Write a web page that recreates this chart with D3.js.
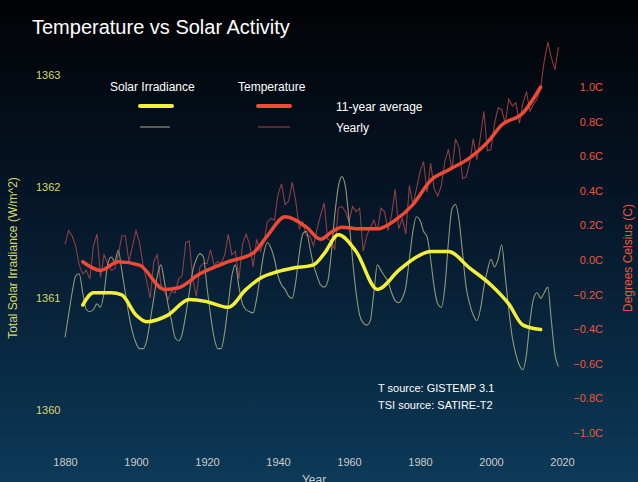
<!DOCTYPE html>
<html><head><meta charset="utf-8">
<script src="https://cdn.jsdelivr.net/npm/d3@7"></script>
<style>body{margin:0;background:#000;}svg{display:block;font-family:"Liberation Sans",Arial,sans-serif;}</style>
</head><body><svg id="chart"></svg>
<script>
const tempYears = d3.range(1880, 2020);
const tempYearly = [0.09,0.17,0.14,0.08,-0.03,-0.08,-0.06,-0.11,0.08,0.15,-0.10,0.03,-0.02,-0.06,-0.05,0.03,0.14,0.14,-0.01,0.08,
  0.17,0.10,-0.03,-0.12,-0.22,-0.01,0.03,-0.14,-0.18,-0.23,-0.18,-0.19,-0.11,-0.09,0.10,0.11,-0.11,-0.21,-0.04,-0.02,
  -0.02,0.06,-0.03,-0.01,-0.02,0.03,0.15,0.03,0.05,-0.11,0.09,0.15,0.09,-0.04,0.12,0.05,0.10,0.22,0.24,0.23,
  0.38,0.44,0.32,0.34,0.45,0.34,0.18,0.22,0.14,0.14,0.08,0.18,0.26,0.33,0.12,0.11,0.06,0.30,0.31,0.28,
  0.22,0.31,0.28,0.30,0.05,0.14,0.19,0.23,0.17,0.30,0.28,0.17,0.26,0.41,0.18,0.24,0.15,0.43,0.32,0.41,
  0.51,0.57,0.39,0.56,0.41,0.37,0.43,0.57,0.64,0.52,0.70,0.65,0.47,0.48,0.56,0.70,0.58,0.71,0.86,0.63,
  0.64,0.79,0.88,0.87,0.79,0.93,0.89,0.91,0.79,0.91,0.97,0.86,0.90,0.93,1.00,1.15,1.26,1.17,1.10,1.23];
const tsiYearly = [1360.65,1360.85,1361.05,1361.2,1361.22,1361.05,1360.9,1360.88,1360.9,1360.95,
  1360.92,1361.05,1361.3,1361.37,1361.33,1361.43,1361.25,1361.05,1360.85,1360.7,
  1360.6,1360.55,1360.55,1360.62,1360.8,1361.0,1361.2,1361.3,1361.15,1360.95,
  1360.8,1360.65,1360.62,1360.68,1360.85,1361.05,1361.25,1361.35,1361.4,1361.37,
  1361.1,1360.85,1360.65,1360.55,1360.55,1360.7,1360.95,1361.2,1361.3,1361.1,
  1360.95,1360.9,1360.88,1360.87,1361.0,1361.2,1361.4,1361.5,1361.45,1361.35,
  1361.2,1361.12,1361.08,1361.02,1361.0,1361.15,1361.4,1361.58,1361.6,1361.45,
  1361.3,1361.2,1361.12,1361.1,1361.15,1361.4,1361.75,1362.0,1362.09,1362.0,
  1361.7,1361.35,1361.05,1360.85,1360.78,1360.76,1360.8,1361.05,1361.3,1361.25,
  1361.2,1361.15,1361.05,1360.98,1360.96,1361.0,1361.1,1361.35,1361.6,1361.73,
  1361.7,1361.6,1361.55,1361.35,1361.1,1360.95,1360.92,1361.1,1361.5,1361.8,
  1361.84,1361.7,1361.4,1361.1,1360.95,1360.85,1360.8,1360.9,1361.1,1361.25,
  1361.35,1361.28,1361.35,1361.48,1361.2,1360.9,1360.65,1360.5,1360.4,1360.36,
  1360.5,1360.8,1361.0,1361.05,1361.0,1361.05,1361.1,1360.8,1360.5,1360.39];
const tempAvgYears = [1885,1890,1895,1901,1908,1912,1918,1926,1933,1937,1942,1948,1952,1955,1958,1963,1968,1973,1978,1983,1988,1994,1999,2003,2009,2014];
const tempAvg = [-0.01,-0.06,-0.01,-0.03,-0.17,-0.16,-0.08,-0.01,0.04,0.14,0.25,0.19,0.12,0.16,0.19,0.18,0.18,0.23,0.32,0.46,0.52,0.59,0.68,0.78,0.85,1.0];
const tsiAvgYears = [1885,1888,1893,1896,1900,1903,1909,1915,1920,1926,1931,1935,1940,1944,1950,1953,1957,1962,1968,1974,1979,1983,1988,1994,2000,2005,2009,2014];
const tsiAvg = [1360.94,1361.05,1361.05,1361.03,1360.85,1360.79,1360.85,1360.99,1360.97,1360.92,1361.08,1361.18,1361.24,1361.27,1361.3,1361.4,1361.57,1361.42,1361.08,1361.25,1361.37,1361.42,1361.42,1361.27,1361.12,1360.95,1360.76,1360.72];
const xTicks = [1880,1900,1920,1940,1960,1980,2000,2020];
const tsiTicks = [1360,1361,1362,1363];
const tempTicks = [-1.0,-0.8,-0.6,-0.4,-0.2,0.0,0.2,0.4,0.6,0.8,1.0];

const W = 638, H = 482;
const svg = d3.select("#chart").attr("width", W).attr("height", H);

const defs = svg.append("defs");
const grad = defs.append("linearGradient").attr("id", "bg").attr("x1", 0).attr("x2", 0).attr("y1", 0).attr("y2", 1);
grad.append("stop").attr("offset", "0%").attr("stop-color", "#020204");
grad.append("stop").attr("offset", "45%").attr("stop-color", "#06172a");
grad.append("stop").attr("offset", "100%").attr("stop-color", "#0c3a58");
svg.append("rect").attr("width", W).attr("height", H).attr("fill", "url(#bg)");

const x = d3.scaleLinear().domain([1880, 2020]).range([65, 562]);
const yL = d3.scaleLinear().domain([1360, 1363]).range([410, 75]);
const yR = d3.scaleLinear().domain([-1, 1]).range([433, 87]);

svg.append("text").attr("x", 32).attr("y", 34).attr("fill", "#fff")
    .attr("font-size", 20).text("Temperature vs Solar Activity");

// axes without domain lines
const xAxis = svg.append("g").attr("transform", "translate(0,455)")
    .call(d3.axisBottom(x).tickValues(xTicks).tickFormat(d3.format("d")).tickSize(0));
xAxis.select(".domain").remove();
xAxis.selectAll("text").attr("fill", "#ccc").attr("font-size", 11).attr("font-family", "Liberation Sans, Arial");

const lAxis = svg.append("g").attr("transform", "translate(33,0)")
    .call(d3.axisRight(yL).tickValues(tsiTicks).tickFormat(d3.format("d")).tickSize(0));
lAxis.select(".domain").remove();
lAxis.selectAll("text").attr("fill", "#d8d86a").attr("font-size", 11).attr("font-family", "Liberation Sans, Arial");

const rAxis = svg.append("g").attr("transform", "translate(606,0)")
    .call(d3.axisLeft(yR).tickValues(tempTicks).tickFormat(d => d3.format(".1f")(d) + "C").tickSize(0));
rAxis.select(".domain").remove();
rAxis.selectAll("text").attr("fill", "#f0553a").attr("font-size", 11).attr("font-family", "Liberation Sans, Arial");

svg.append("text").attr("transform", "translate(17,258) rotate(-90)").attr("text-anchor", "middle")
    .attr("fill", "#d8d86a").attr("font-size", 12).text("Total Solar Irradiance (W/m^2)");
svg.append("text").attr("transform", "translate(632,258) rotate(-90)").attr("text-anchor", "middle")
    .attr("fill", "#f0553a").attr("font-size", 12).text("Degrees Celsius (C)");
svg.append("text").attr("x", 314).attr("y", 484).attr("text-anchor", "middle")
    .attr("fill", "#ccc").attr("font-size", 12).text("Year");

// yearly lines
const tsiYearLine = d3.line().x((d, i) => x(tempYears[i])).y(d => yL(d)).curve(d3.curveMonotoneX);
const tempYearLine = d3.line().x((d, i) => x(tempYears[i])).y(d => yR(d));
svg.append("path").datum(tempYearly).attr("d", tempYearLine)
    .attr("fill", "none").attr("stroke", "#a54646").attr("stroke-width", 1.1).attr("opacity", 0.85);
svg.append("path").datum(tsiYearly).attr("d", tsiYearLine)
    .attr("fill", "none").attr("stroke", "#a9ad84").attr("stroke-width", 1.1).attr("opacity", 0.85);

// 11-year averages
const tsiAvgLine = d3.line().x((d, i) => x(tsiAvgYears[i])).y(d => yL(d)).curve(d3.curveMonotoneX);
const tempAvgLine = d3.line().x((d, i) => x(tempAvgYears[i])).y(d => yR(d)).curve(d3.curveMonotoneX);
svg.append("path").datum(tsiAvg).attr("d", tsiAvgLine)
    .attr("fill", "none").attr("stroke", "#f4f03a").attr("stroke-width", 3.5).attr("stroke-linecap", "round");
svg.append("path").datum(tempAvg).attr("d", tempAvgLine)
    .attr("fill", "none").attr("stroke", "#f04a34").attr("stroke-width", 3.5).attr("stroke-linecap", "round");

// legend
const leg = svg.append("g").attr("font-size", 12).attr("fill", "#fff");
leg.append("text").attr("x", 110).attr("y", 91).text("Solar Irradiance");
leg.append("text").attr("x", 238).attr("y", 91).text("Temperature");
leg.append("text").attr("x", 336).attr("y", 111).text("11-year average");
leg.append("text").attr("x", 336).attr("y", 132).text("Yearly");
leg.append("line").attr("x1", 140).attr("x2", 172).attr("y1", 106).attr("y2", 106).attr("stroke", "#f4f03a").attr("stroke-width", 4).attr("stroke-linecap", "round");
leg.append("line").attr("x1", 258).attr("x2", 290).attr("y1", 106).attr("y2", 106).attr("stroke", "#f04a34").attr("stroke-width", 4).attr("stroke-linecap", "round");
leg.append("line").attr("x1", 140).attr("x2", 170).attr("y1", 127).attr("y2", 127).attr("stroke", "#a9ad84").attr("stroke-width", 1);
leg.append("line").attr("x1", 258).attr("x2", 290).attr("y1", 127).attr("y2", 127).attr("stroke", "#a54646").attr("stroke-width", 1);

svg.append("text").attr("x", 378).attr("y", 392).attr("fill", "#fff").attr("font-size", 11).text("T source: GISTEMP 3.1");
svg.append("text").attr("x", 378).attr("y", 409).attr("fill", "#fff").attr("font-size", 11).text("TSI source: SATIRE-T2");
</script></body></html>
